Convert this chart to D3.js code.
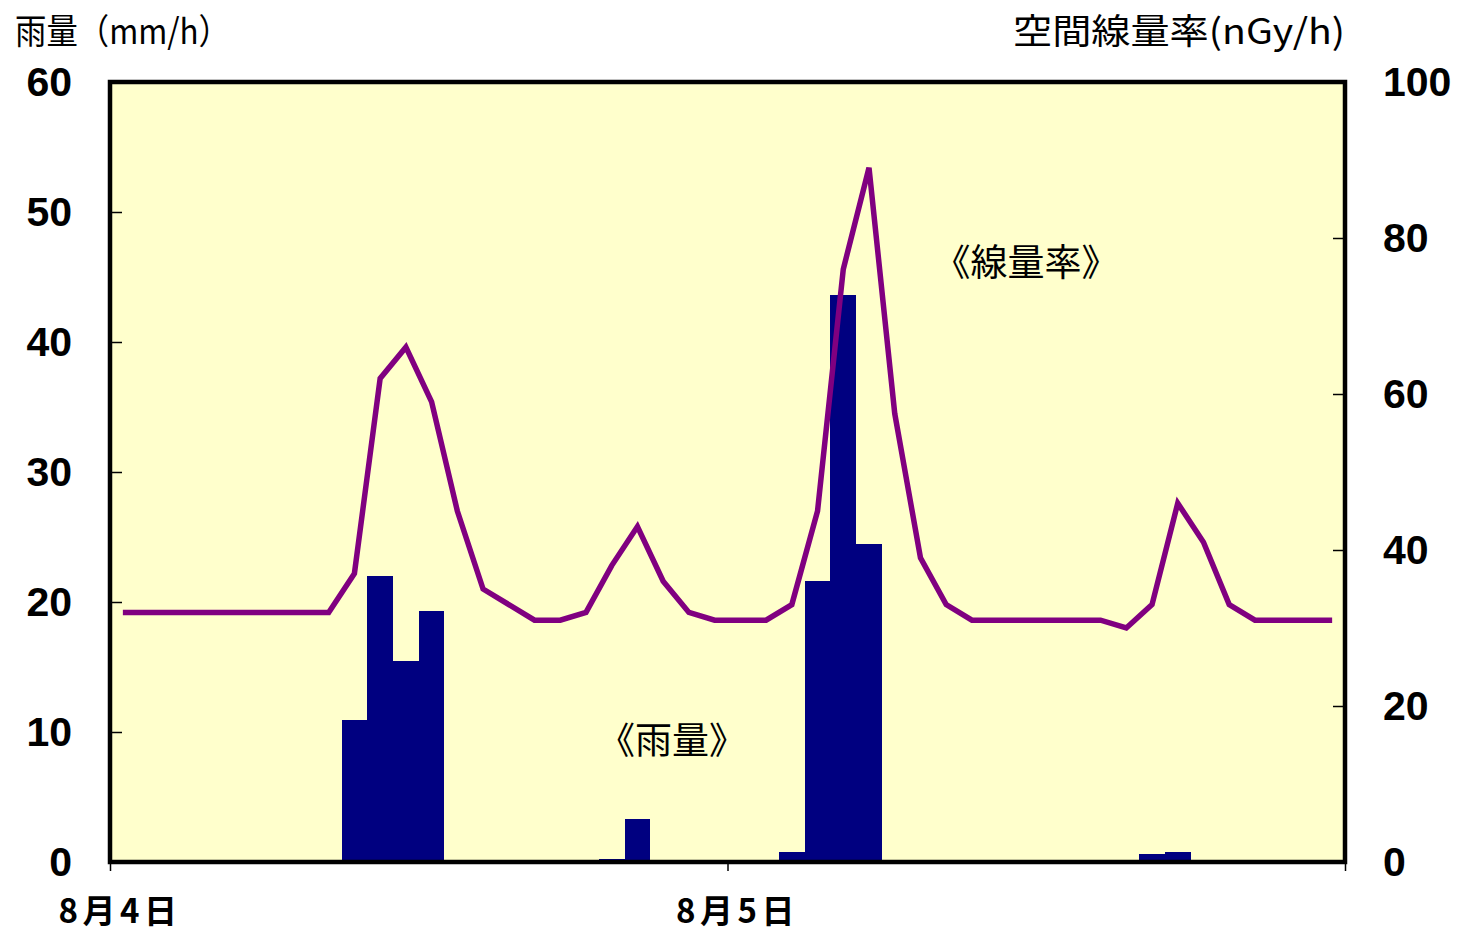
<!DOCTYPE html>
<html>
<head>
<meta charset="utf-8">
<script src="https://cdn.jsdelivr.net/npm/d3@7"></script>
<style>
  body { margin: 0; background: #fff; }
  svg { display: block; }
</style>
</head>
<body>
<svg id="chart" width="1464" height="934"></svg>
<script>
// hourly values, 8/4 00:00 .. 8/5 23:00
const rain = [0, 0, 0, 0, 0, 0, 0, 0, 0, 10.9, 22.0, 15.5, 19.3, 0, 0, 0, 0, 0, 0, 0.2, 3.3, 0, 0, 0,
              0, 0, 0.8, 21.6, 43.6, 24.5, 0, 0, 0, 0, 0, 0, 0, 0, 0, 0, 0.6, 0.8, 0, 0, 0, 0, 0, 0];
const dose = [32, 32, 32, 32, 32, 32, 32, 32, 32, 37, 62, 66, 59, 45, 35, 33, 31, 31, 32, 38, 43, 36, 32, 31,
              31, 31, 33, 45, 76, 89, 57.5, 39, 33, 31, 31, 31, 31, 31, 31, 30, 33, 46, 41, 33, 31, 31, 31, 31];
const dateTicks = [0, 24, 48];
const dateLabels = ["8月4日", "8月5日", ""];
const rainTicks = [0, 10, 20, 30, 40, 50, 60];
const doseTicks = [0, 20, 40, 60, 80, 100];

const pLeft = 110, pRight = 1345, pTop = 82, pBottom = 862;
const svg = d3.select("#chart");

let x = d3.scaleLinear().domain([0, 48]).range([pLeft, pRight]);
let yRain = d3.scaleLinear().domain([0, 60]).range([pBottom, pTop]);
let yDose = d3.scaleLinear().domain([0, 100]).range([pBottom, pTop]);

svg.append("rect")
  .attr("x", pLeft).attr("y", pTop)
  .attr("width", pRight - pLeft).attr("height", pBottom - pTop)
  .attr("fill", "#ffffcc");

// rain bars (snapped to whole pixels so neighbours don't show a seam)
svg.append("g")
  .attr("shape-rendering", "crispEdges")
  .selectAll("rect")
  .data(rain)
  .join("rect")
  .attr("x", (d, i) => Math.round(x(i)))
  .attr("width", (d, i) => Math.round(x(i + 1)) - Math.round(x(i)))
  .attr("y", d => Math.round(yRain(d)))
  .attr("height", d => pBottom - Math.round(yRain(d)))
  .attr("fill", "#000080");

// dose rate line
let line = d3.line()
  .x((d, i) => x(i + 0.5))
  .y(d => yDose(d));

svg.append("path")
  .datum(dose)
  .attr("d", line)
  .attr("fill", "none")
  .attr("stroke", "#800080")
  .attr("stroke-width", 5.5)
  .attr("stroke-linejoin", "miter");

let numFont = "'Liberation Sans', Arial, sans-serif";
let cjkFont = "'Noto Sans CJK JP', sans-serif";

let la = svg.append("g")
  .attr("transform", "translate(" + pLeft + ",0)")
  .call(d3.axisLeft(yRain).tickValues(rainTicks).tickSize(-12).tickPadding(38));
la.select(".domain").remove();

let ra = svg.append("g")
  .attr("transform", "translate(" + pRight + ",0)")
  .call(d3.axisRight(yDose).tickValues(doseTicks).tickSize(-12).tickPadding(38));
ra.select(".domain").remove();

let ba = svg.append("g")
  .attr("transform", "translate(0," + pBottom + ")")
  .call(d3.axisBottom(x).tickValues(dateTicks).tickSize(9).tickFormat((d, i) => dateLabels[i]));
ba.select(".domain").remove();

svg.selectAll(".tick line").attr("stroke", "#000").attr("stroke-width", 1.5);
[la, ra].forEach(g => g.selectAll("text")
  .attr("font-family", numFont)
  .attr("font-size", 41)
  .attr("font-weight", "bold")
  .attr("fill", "#000"));
ba.selectAll("text")
  .attr("font-family", cjkFont)
  .attr("font-size", 33)
  .attr("font-weight", "bold")
  .attr("letter-spacing", 4.5)
  .attr("text-anchor", "start")
  .attr("x", -52)
  .attr("y", 0)
  .attr("dy", 0)
  .attr("transform", "translate(0,61)")
  .attr("fill", "#000");

// frame
svg.append("rect")
  .attr("x", pLeft).attr("y", pTop)
  .attr("width", pRight - pLeft).attr("height", pBottom - pTop)
  .attr("fill", "none")
  .attr("stroke", "#000")
  .attr("stroke-width", 4.5);

// axis titles
svg.append("text")
  .attr("x", 15).attr("y", 44)
  .attr("font-family", cjkFont)
  .attr("font-size", 35)
  .attr("textLength", 215)
  .attr("lengthAdjust", "spacingAndGlyphs")
  .text("雨量（mm/h）");

svg.append("text")
  .attr("x", 1013).attr("y", 44)
  .attr("font-family", cjkFont)
  .attr("font-size", 35)
  .attr("textLength", 332)
  .attr("lengthAdjust", "spacingAndGlyphs")
  .text("空間線量率(nGy/h)");

// series labels
svg.append("text")
  .attr("x", 1026).attr("y", 260)
  .attr("dominant-baseline", "central")
  .attr("text-anchor", "middle")
  .attr("font-family", cjkFont)
  .attr("font-size", 37)
  .text("《線量率》");

svg.append("text")
  .attr("x", 672).attr("y", 738)
  .attr("dominant-baseline", "central")
  .attr("text-anchor", "middle")
  .attr("font-family", cjkFont)
  .attr("font-size", 37)
  .text("《雨量》");
</script>
</body>
</html>
